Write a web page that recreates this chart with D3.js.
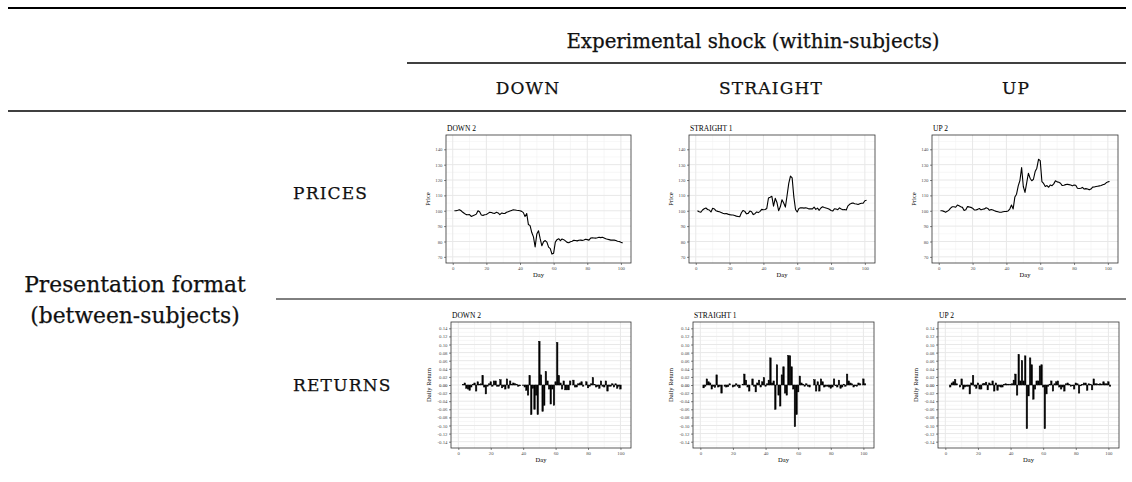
<!DOCTYPE html>
<html>
<head>
<meta charset="utf-8">
<title>Experimental design</title>
<style>
body { margin: 0; background: #fff; }
svg { display: block; }
.hdr { font-family: "DejaVu Serif", serif; fill: #111; stroke: #111; stroke-width: 0.25px; }
.pan text { font-family: "Liberation Serif", serif; }
.axis text { fill: #4d4d4d; font-size: 4.8px; }
.axis line { stroke: #333; stroke-width: 0.6px; }
.axis path { display: none; }
</style>
</head>
<body>
<script src="https://cdn.jsdelivr.net/npm/d3@7/dist/d3.min.js"></script>
<script>

// ---- data ----
const shocks = ["DOWN", "STRAIGHT", "UP"];
const formats = ["PRICES", "RETURNS"];
const panelTitles = ["DOWN 2", "STRAIGHT 1", "UP 2"];
const dayTicks = [0, 20, 40, 60, 80, 100];
const priceTicks = [70, 80, 90, 100, 110, 120, 130, 140];
const returnTicks = [-0.14, -0.12, -0.10, -0.08, -0.06, -0.04, -0.02, 0, 0.02, 0.04, 0.06, 0.08, 0.10, 0.12, 0.14];

// daily prices, day 1 .. 101
const downPrice = [
  100, 100, 100.3, 100.7, 100, 99, 98.2, 97.5, 97.4, 97.5,
  96.3, 96.8, 97.2, 97.8, 100, 99.3, 97.2, 97, 97.4, 97.6,
  98.3, 99, 98.9, 98.4, 98.3, 99, 98.6, 97.5, 98.5, 98.3,
  98.2, 99, 99.4, 99.8, 100.2, 100.6, 100.5, 100.3, 100.2, 100,
  99.6, 98.8, 96.2, 98.2, 91, 90.3, 85.8, 83, 76.5, 84.8,
  87, 81.8, 77.2, 79.8, 80.6, 79.6, 76.3, 75.4, 71.8, 72.4,
  79.6, 81.2, 81.8, 80.6, 81.6, 81.2, 80.4, 79.4, 79.2, 79.8,
  80.2, 80.8, 80.6, 80.4, 80.8, 80.9, 80.7, 81, 81.5, 81.2,
  80.9, 82.2, 82.4, 82.3, 82.2, 82.4, 82.8, 82.5, 82.8, 82.3,
  81.8, 81.5, 81.2, 80.9, 81, 80.9, 80.6, 80.2, 80, 79.5, 79.1
];
const straightPrice = [
  100, 99.3, 99, 100.5, 101.3, 101.8, 100.8, 100.5, 99.2, 101.6,
  101.2, 100, 99.6, 99.3, 98.9, 98.4, 98, 98.2, 97.8, 97.5,
  97.3, 97.2, 96.9, 96.5, 96.3, 96.1, 98.7, 100.2, 99.6, 98,
  98.3, 99.8, 99.3, 97.5, 98.1, 99.2, 98.8, 99.6, 100.9, 100.6,
  100.8, 101.5, 108.3, 108.8, 109.4, 103, 108.1, 105.4, 100, 102.6,
  107.2, 105, 102.4, 109.9, 117.8, 122.6, 121.4, 109, 100.8, 99.2,
  101.4, 101.9, 102, 101.7, 102, 101.6, 101.2, 101.2, 101.2, 102.4,
  100.9, 101.7, 100.3, 101.8, 102.6, 102.1, 101.8, 101.5, 101, 100.2,
  99.8, 101.3, 101.1, 100.7, 101.9, 101.1, 100.6, 100.8, 100.5, 103.2,
  104.2, 104.8, 105.1, 104.6, 104.4, 104.1, 104.6, 104.9, 104.9, 106.5, 106.8
];
const upPrice = [
  100, 100, 99.6, 99.1, 99.6, 100.4, 101.7, 102.6, 102.6, 102.3,
  103.7, 103.2, 102.6, 102.2, 100.2, 100.6, 102.7, 102.5, 102.2, 101.7,
  100.6, 100.5, 100.9, 101.5, 100.6, 101, 101.2, 101.9, 101.5, 100.3,
  100.8, 100.5, 100, 99.6, 99.3, 99, 99, 99.3, 99.5, 99.6,
  99.9, 101.1, 103.7, 101.2, 108.9, 110.8, 116.2, 119.7, 128.1, 115.8,
  111.9, 118.2, 124.4, 121.2, 119.5, 120.5, 125.5, 127.7, 133.5, 132.6,
  119, 117.8, 115.8, 116.4, 115.3, 116.8, 116.3, 117.5, 119.5, 118.8,
  118.5, 117.9, 116.4, 116.6, 117, 117.3, 117, 116.7, 116.2, 116.8,
  116.6, 114.7, 114.5, 114.6, 115.2, 114.1, 114.4, 114.2, 113.6, 114.1,
  115.4, 115.5, 115.8, 116, 116.2, 116.4, 116.9, 117.2, 118.2, 118.8, 119
];

// daily returns, day 1 .. 101
const downReturn = [
  0, 0, 0.001, 0.005, -0.008, -0.01, -0.013, -0.005, 0.002, 0.005,
  -0.015, 0.008, 0.002, 0.003, 0.023, -0.005, -0.022, -0.003, 0.003, 0.008,
  -0.003, 0.01, 0.01, -0.003, -0.003, 0.013, -0.007, -0.004, -0.01, 0.015,
  -0.008, 0.01, 0.002, 0.005, 0.003, 0.002, -0.003, -0.002, 0, -0.001,
  -0.005, -0.013, -0.025, 0.023, -0.073, -0.008, -0.06, -0.025, -0.073, 0.108,
  0.025, -0.065, -0.05, 0.033, 0.01, -0.01, -0.047, -0.01, -0.05, 0.008,
  0.105, 0.023, 0.005, -0.01, 0.01, -0.012, -0.012, -0.012, 0.01, 0,
  0.012, -0.005, -0.005, 0.003, 0.005, 0.008, -0.003, 0, 0.008, -0.007,
  -0.003, 0.003, 0.018, 0.001, -0.005, -0.003, -0.008, 0.01, -0.003, -0.005,
  0.01, -0.015, -0.003, -0.003, 0.003, -0.005, 0.003, -0.008, -0.003, -0.01, 0
];
const straightReturn = [
  0, -0.007, -0.003, 0.015, 0.008, 0.005, -0.01, -0.003, -0.006, 0.025,
  -0.005, -0.003, -0.02, 0, -0.003, -0.005, -0.004, 0.003, 0, -0.005,
  -0.003, 0.003, -0.003, -0.007, 0, 0.002, 0.027, 0.012, -0.005, -0.015,
  0, 0.015, -0.003, -0.017, 0.005, 0.012, -0.005, 0.008, 0.018, -0.003,
  0.003, 0.012, 0.067, 0.005, 0.01, -0.06, 0.05, -0.025, -0.052, 0.025,
  0.045, -0.02, -0.025, 0.073, 0.072, 0.045, -0.01, -0.103, -0.073, -0.017,
  0.022, 0.005, 0.002, -0.003, 0.003, -0.003, -0.005, 0, 0, 0.013,
  -0.015, 0.008, -0.015, 0.015, 0.008, -0.005, -0.003, -0.003, -0.005, -0.008,
  -0.005, 0.015, -0.002, -0.005, 0.012, -0.008, -0.005, 0.002, -0.003, 0.027,
  0.01, 0.005, 0.003, -0.005, -0.002, -0.003, 0.005, 0.003, 0, 0.015, 0.003
];
const upReturn = [
  0, 0, -0.005, 0.005, 0.008, 0.013, 0.003, 0, -0.005, 0.015,
  -0.01, -0.005, -0.003, -0.003, -0.022, 0.005, 0.023, -0.003, -0.008, 0.005,
  -0.01, -0.01, 0.003, 0.004, 0.007, -0.012, 0.005, 0.002, 0.01, -0.015,
  0.005, -0.013, -0.003, -0.005, -0.005, 0.001, 0.003, 0.002, 0.002, 0.002,
  0.003, 0.012, 0.027, -0.025, 0.075, 0.01, 0.06, 0.01, 0.072, -0.108,
  -0.027, 0.067, 0.05, -0.035, -0.01, 0.01, 0.01, 0.047, 0.05, -0.005,
  -0.108, -0.022, -0.003, 0.002, 0.01, -0.015, 0.003, 0.008, 0.01, -0.005,
  -0.01, -0.005, -0.015, 0.003, 0.005, 0.002, -0.003, -0.002, -0.01, 0.005,
  0.003, -0.02, -0.002, 0.001, 0.005, 0.005, -0.013, 0.003, 0.002, -0.012,
  0.015, 0.003, 0.003, 0.002, 0.003, 0.002, 0.008, 0.003, 0.003, 0.008, -0.003
];

const prices = [downPrice, straightPrice, upPrice];
const returns = [downReturn, straightReturn, upReturn];

// ---- layout ----
var width = 1132, height = 482;

var svg = d3.select("body").append("svg")
    .attr("width", width)
    .attr("height", height);

svg.append("rect").attr("width", width).attr("height", height).attr("fill", "#fff");

// table rules (booktabs style)
var rules = [
  {x1: 8, x2: 1126, y: 8, w: 2},
  {x1: 407, x2: 1126, y: 63, w: 1.3},
  {x1: 8, x2: 1126, y: 111, w: 1.3},
  {x1: 276, x2: 1126, y: 299, w: 1}
];
svg.selectAll("line.rule")
    .data(rules)
    .enter().append("line")
    .attr("class", "rule")
    .attr("x1", d => d.x1).attr("x2", d => d.x2)
    .attr("y1", d => d.y).attr("y2", d => d.y)
    .attr("stroke", "#000")
    .attr("stroke-width", d => d.w);

svg.append("text")
    .attr("class", "hdr")
    .attr("x", 753).attr("y", 48)
    .attr("text-anchor", "middle")
    .style("font-size", "19.8px")
    .text("Experimental shock (within-subjects)");

var colCenters = [528, 771, 1016];
svg.selectAll("text.col")
    .data(shocks)
    .enter().append("text")
    .attr("class", "hdr col")
    .attr("x", (d, i) => colCenters[i]).attr("y", 93.5)
    .attr("text-anchor", "middle")
    .style("font-size", "17px")
    .style("letter-spacing", "1.2px")
    .text(d => d);

var rowBase = [199, 391];
svg.selectAll("text.row")
    .data(formats)
    .enter().append("text")
    .attr("class", "hdr row")
    .attr("x", 293).attr("y", (d, i) => rowBase[i])
    .style("font-size", "17px")
    .style("letter-spacing", "1.2px")
    .text(d => d);

svg.append("text")
    .attr("class", "hdr")
    .attr("x", 135).attr("y", 292)
    .attr("text-anchor", "middle")
    .style("font-size", "21.8px")
    .text("Presentation format");
svg.append("text")
    .attr("class", "hdr")
    .attr("x", 135).attr("y", 323)
    .attr("text-anchor", "middle")
    .style("font-size", "21.8px")
    .text("(between-subjects)");

// plot areas of the six small panels
var priceBoxes = [
  {x0: 446, x1: 631, y0: 135, y1: 263},
  {x0: 689, x1: 875, y0: 135, y1: 263},
  {x0: 932, x1: 1118, y0: 135, y1: 263}
];
var returnBoxes = [
  {x0: 451, x1: 631, y0: 322, y1: 448},
  {x0: 693, x1: 874, y0: 322, y1: 448},
  {x0: 938, x1: 1119, y0: 322, y1: 448}
];

var fmtRet = d3.formatLocale({decimal: ".", thousands: ",", grouping: [3], currency: ["", ""], minus: "-"}).format(".2f");

// minor grid sits halfway between major breaks, as in ggplot
function minorBreaks(ticks, domain) {
  var out = [];
  var step = ticks[1] - ticks[0];
  for (var v = ticks[0] - step / 2; v <= domain[1] + 1e-9; v += step) {
    if (v >= domain[0]) out.push(v);
  }
  return out;
}

function drawPanel(box, title, values, kind) {
  var g = svg.append("g").attr("class", "pan");
  var isPrice = kind == "price";
  var xDom = isPrice ? [-4, 106] : [-4.5, 106.5];
  var yDom = isPrice ? [66, 149.3] : [-0.1556, 0.1556];
  var yTicks = isPrice ? priceTicks : returnTicks;

  var x = d3.scaleLinear().domain(xDom).range([box.x0, box.x1]);
  var y = d3.scaleLinear().domain(yDom).range([box.y1, box.y0]);

  // background grid
  var grid = g.append("g");
  grid.selectAll("line.xmin")
      .data(minorBreaks(dayTicks, xDom))
      .enter().append("line")
      .attr("x1", d => x(d)).attr("x2", d => x(d))
      .attr("y1", box.y0).attr("y2", box.y1)
      .attr("stroke", "#f2f2f2").attr("stroke-width", 0.6);
  grid.selectAll("line.ymin")
      .data(minorBreaks(yTicks, yDom))
      .enter().append("line")
      .attr("y1", d => y(d)).attr("y2", d => y(d))
      .attr("x1", box.x0).attr("x2", box.x1)
      .attr("stroke", "#f2f2f2").attr("stroke-width", 0.6);
  grid.selectAll("line.xmaj")
      .data(dayTicks)
      .enter().append("line")
      .attr("x1", d => x(d)).attr("x2", d => x(d))
      .attr("y1", box.y0).attr("y2", box.y1)
      .attr("stroke", "#e8e8e8").attr("stroke-width", 1);
  grid.selectAll("line.ymaj")
      .data(yTicks)
      .enter().append("line")
      .attr("y1", d => y(d)).attr("y2", d => y(d))
      .attr("x1", box.x0).attr("x2", box.x1)
      .attr("stroke", "#e8e8e8").attr("stroke-width", 1);

  if (isPrice) {
    var line = d3.line()
        .x((d, i) => x(i + 1))
        .y(d => y(d));
    g.append("path")
        .datum(values)
        .attr("d", line)
        .attr("fill", "none")
        .attr("stroke", "#000")
        .attr("stroke-width", 1.1)
        .attr("stroke-linejoin", "round");
  } else {
    var bw = x(0.9) - x(0);
    g.selectAll("rect.bar")
        .data(values)
        .enter().append("rect")
        .attr("class", "bar")
        .attr("x", (d, i) => x(i + 1) - bw / 2)
        .attr("width", bw)
        .attr("y", d => y(Math.max(0, d)))
        .attr("height", d => Math.abs(y(d) - y(0)))
        .attr("fill", "#000")
        .attr("stroke", "#000")
        .attr("stroke-width", 0.5);
  }

  // panel border
  g.append("rect")
      .attr("x", box.x0).attr("y", box.y0)
      .attr("width", box.x1 - box.x0).attr("height", box.y1 - box.y0)
      .attr("fill", "none")
      .attr("stroke", "#333")
      .attr("stroke-width", 0.8);

  // axes
  g.append("g")
      .attr("class", "axis")
      .attr("transform", "translate(0," + box.y1 + ")")
      .call(d3.axisBottom(x).tickValues(dayTicks).tickSize(2).tickPadding(1.5));
  var yAxis = d3.axisLeft(y).tickValues(yTicks).tickSize(2).tickPadding(1.5);
  if (!isPrice) yAxis.tickFormat(fmtRet);
  var ya = g.append("g")
      .attr("class", "axis")
      .attr("transform", "translate(" + box.x0 + ",0)")
      .call(yAxis);
  ya.selectAll("text").filter(d => d === 0 && !isPrice).style("fill", "#111");

  // labels
  g.append("text")
      .attr("x", box.x0 + 1).attr("y", box.y0 - 4)
      .style("font-size", "7.5px")
      .attr("fill", "#000")
      .text(title);
  g.append("text")
      .attr("x", (box.x0 + box.x1) / 2).attr("y", box.y1 + 14)
      .attr("text-anchor", "middle")
      .style("font-size", "6.5px")
      .attr("fill", "#000")
      .text("Day");
  var yt = isPrice ? box.x0 - 16 : box.x0 - 20;
  g.append("text")
      .attr("transform", "translate(" + yt + "," + ((box.y0 + box.y1) / 2) + ") rotate(-90)")
      .attr("text-anchor", "middle")
      .style("font-size", "6.5px")
      .attr("fill", "#000")
      .text(isPrice ? "Price" : "Daily Return");
}

for (var i = 0; i < 3; i++) {
  drawPanel(priceBoxes[i], panelTitles[i], prices[i], "price");
  drawPanel(returnBoxes[i], panelTitles[i], returns[i], "return");
}

</script>
</body>
</html>
